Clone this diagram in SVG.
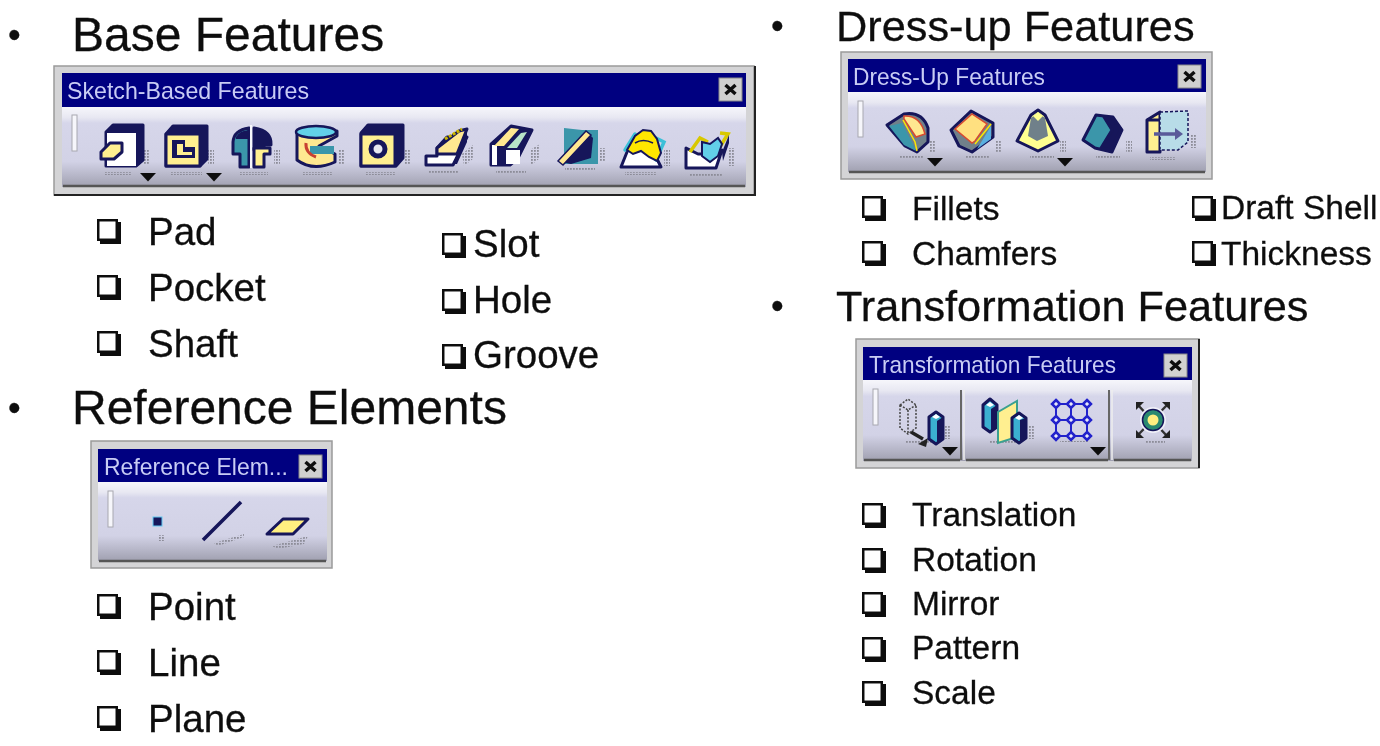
<svg xmlns="http://www.w3.org/2000/svg" width="1380" height="746" viewBox="0 0 1380 746">
<style>
text{font-family:"Liberation Sans",Arial,sans-serif;fill:#111;stroke:#111;stroke-width:.3}
.h{font-size:48px}
.h2{font-size:43.300px}
.d{font-size:36px}
.b1{font-size:38.500px}
.b2{font-size:33.500px}
text.t{font-size:23.200px;fill:#c8ccf4;stroke:none}
.title{fill:#000080}
.frame{fill:#d4d4d6;stroke:#9a9a9a;stroke-width:1.500}
.body{fill:url(#g)}
.x{fill:#d0d0d0;stroke:#888;stroke-width:1}
.xx{stroke:#111;stroke-width:3.500;fill:none}
.grip{fill:#f6f6fb;stroke:#a8a8b0;stroke-width:1}
.sep{stroke:#555;stroke-width:2.500}
.o{stroke:#14145a;stroke-width:3;stroke-linejoin:round}
.s{fill:url(#dots)}
.tri{fill:#111}
</style>
<defs>
<linearGradient id="g" x1="0" y1="0" x2="0" y2="1">
<stop offset="0" stop-color="#f6f6fb"/><stop offset="0.13" stop-color="#e8e8f2"/><stop offset="0.2" stop-color="#d6d6ea"/><stop offset="0.68" stop-color="#d2d2e6"/><stop offset="1" stop-color="#a0a0b0"/>
</linearGradient>
<pattern id="dots" width="3" height="3" patternUnits="userSpaceOnUse"><rect width="1.800" height="1.800" fill="#8c8c98"/></pattern>
<filter id="soft" x="-2%" y="-2%" width="104%" height="104%"><feGaussianBlur stdDeviation="0.7"/></filter>
<filter id="soft2" x="-2%" y="-2%" width="104%" height="104%"><feGaussianBlur stdDeviation="0.35"/></filter>
<g id="xb"><rect class="x" width="23" height="23"/><path class="xx" d="M6.500 7L16.500 16M16.500 7L6.500 16"/></g>
<path id="tr" class="tri" d="M0 0H16L8 8.500Z"/>
<path id="box" fill="#111" d="M0 0H21V3H24V25H3V22H0Z M2.500 2.500V19.500H18.500V2.500Z"/>
</defs>

<g filter="url(#soft2)">
<g id="base-heading"><text class="d" x="8" y="47">•</text><text class="h" x="72" y="51">Base Features</text></g>
<g id="base-items">
<use href="#box" x="97" y="219"/><text class="b1" x="148" y="245">Pad</text>
<use href="#box" x="97" y="275"/><text class="b1" x="148" y="301">Pocket</text>
<use href="#box" x="97" y="331"/><text class="b1" x="148" y="357">Shaft</text>
<use href="#box" x="442" y="233"/><text class="b1" x="473" y="257">Slot</text>
<use href="#box" x="442" y="289"/><text class="b1" x="473" y="313">Hole</text>
<use href="#box" x="442" y="344"/><text class="b1" x="473" y="368">Groove</text>
</g>
<g id="ref-heading"><text class="d" x="8" y="420">•</text><text class="h" x="72" y="424">Reference Elements</text></g>
<g id="ref-items">
<use href="#box" x="97" y="594"/><text class="b1" x="148" y="620">Point</text>
<use href="#box" x="97" y="650"/><text class="b1" x="148" y="676">Line</text>
<use href="#box" x="97" y="706"/><text class="b1" x="148" y="732">Plane</text>
</g>
<g id="dress-heading"><text class="d" x="771" y="38">•</text><text class="h2" x="836" y="41">Dress-up Features</text></g>
<g id="dress-items">
<use href="#box" x="862" y="196"/><text class="b2" x="912" y="220">Fillets</text>
<use href="#box" x="862" y="241"/><text class="b2" x="912" y="265">Chamfers</text>
<use href="#box" x="1192" y="196"/><text class="b2" x="1221" y="219">Draft Shell</text>
<use href="#box" x="1192" y="241"/><text class="b2" x="1221" y="265">Thickness</text>
</g>
<g id="transform-heading"><text class="d" x="771" y="318">•</text><text class="h2" x="836" y="321">Transformation Features</text></g>
<g id="transform-items">
<use href="#box" x="862" y="503"/><text class="b2" x="912" y="526">Translation</text>
<use href="#box" x="862" y="548"/><text class="b2" x="912" y="571">Rotation</text>
<use href="#box" x="862" y="592"/><text class="b2" x="912" y="615">Mirror</text>
<use href="#box" x="862" y="637"/><text class="b2" x="912" y="659">Pattern</text>
<use href="#box" x="862" y="681"/><text class="b2" x="912" y="704">Scale</text>
</g>
</g>

<g id="sketch-toolbar" filter="url(#soft)">
<rect x="54" y="66" width="700" height="129" class="frame"/>
<path d="M54 195H755V66" fill="none" stroke="#222" stroke-width="2"/>
<rect x="62" y="73" width="684" height="34" class="title"/>
<text class="t" x="67" y="99" textLength="242" lengthAdjust="spacingAndGlyphs">Sketch-Based Features</text>
<use href="#xb" x="719" y="78"/>
<rect x="62" y="107" width="684" height="80" class="body"/>
<rect x="72" y="115" width="5" height="36" class="grip"/>
<path class="sep" d="M63 186H745"/>
<path class="s" d="M104 172h28v3h-28zM144 150h6v14h-6zM170 172h32v3h-32zM208 150h6v14h-6zM240 172h28v3h-28zM274 150h6v14h-6zM302 172h30v3h-30zM338 150h6v14h-6zM366 172h30v3h-30zM404 150h6v14h-6zM428 171h30v3h-30zM462 154l12-10v14l-10 8zM496 171h30v3h-30zM530 150l10-6v14l-10 8zM565 168h30v3h-30zM600 148h6v14h-6zM625 172h32v3h-32zM664 150h6v16h-6zM690 174h32v3h-32zM728 148h6v18h-6z"/>
<path class="o" fill="#14145a" d="M106 166v-34l7-7h30v35l-7 6z"/><path fill="#fff" d="M107 166v-33h29v33z"/><path class="o" fill="#ffef90" d="M101 152l9-9h12v9l-8 7h-13z"/>
<path class="o" fill="#14145a" d="M166 134l7-8h34v33l-7 7h-34z"/><path class="o" fill="#ffef90" d="M166 134h34v32h-34z"/><path fill="#14145a" d="M172 140h13v7h10v11h-23z"/><path fill="#ffef90" d="M177 144h6v8h9v3h-15z"/>
<path class="o" fill="#3a96aa" d="M233 142q1-12 16-14v39h-9v-13h-7z"/><path fill="#14145a" d="M236 137q3-6 13-7v9h-13z"/><path class="o" fill="#14145a" d="M254 150h10v-5h7q1-14-17-17z"/><path class="o" fill="#ffef90" d="M254 148h16v6h-6v13h-10z"/><path d="M251 125v43" stroke="#f6f6fb" stroke-width="2"/>
<path class="o" fill="#ffe890" d="M297 132v28q16 12 38 2v-8l-16-8 18-10v-5z"/><ellipse cx="316" cy="132" rx="20" ry="6" fill="#62d0e8" stroke="#14145a" stroke-width="2.500"/><path d="M310 146h24v8h-24z" fill="#3a96aa"/><path d="M306 143q-1 10 10 14" fill="none" stroke="#c84030" stroke-width="3"/>
<path class="o" fill="#14145a" d="M361 133l7-8h35v33l-7 8h-35z"/><path class="o" fill="#ffef90" d="M361 134h34v32h-34z"/><circle cx="378" cy="149" r="7" fill="#e8e8f0" stroke="#14145a" stroke-width="5"/>
<path class="o" fill="#fff" d="M426 165v-9h11v-8l10-11h20l-14 28z"/><path class="o" fill="#ffe890" d="M437 148l22-17 8-2-10 25h-20z"/><path d="M445 139l17-10" stroke="#c8b400" stroke-width="3" stroke-dasharray="3 1.500"/><path fill="#14145a" d="M467 130v12l-10 22h-4z"/>
<path class="o" fill="#14145a" d="M491 165v-21l20-18 21 4-14 28-8 7z"/><path fill="#fff" d="M506 150h14v14h-14z"/><path fill="#fff" d="M492 165v-20h5v20z"/><path fill="#ffe890" d="M494 146l17-18 8 1-15 17z"/><path fill="#b8e4c8" d="M507 148l14-15 6-1-10 16z"/>
<path d="M564 128l18 2h16v34h-34z" fill="#3a96aa"/><path d="M561 162l26-30 6 6 -2 20-20 6z" fill="#14145a"/><path d="M558 161l28-30 5 4-28 30z" fill="#ffe890" stroke="#14145a" stroke-width="1.500"/>
<path class="o" fill="#fff" d="M621 167l8-20h18l8 8 6 12z"/><path d="M625 150l10-16M656 138l8 4-8 18" stroke="#3ac0d8" stroke-width="3.500" fill="none" stroke-linecap="round"/><path d="M627 150l8-14 8-6 8 1 6 8 4 14-4 8-8-4-8-6-8 3z" fill="#ffe600" stroke="#14145a" stroke-width="2"/><path d="M635 143q8-5 18 0" stroke="#14145a" fill="none" stroke-width="1.500"/>
<path class="o" fill="#fff" d="M686 168v-20l12 6h18l6-4-6 18z"/><path d="M690 152l10-14 8 4M718 150l10-16-8-1" stroke="#d8c800" stroke-width="3.500" fill="none"/><path d="M702 142l8 2 8-6 4 6-4 12-8 6-8-6z" fill="#62d0e8" stroke="#14145a" stroke-width="2"/><path fill="#14145a" d="M722 152l7-17 v8l-6 18z"/>
<use href="#tr" x="140" y="173"/><use href="#tr" x="206" y="173"/>
</g>

<g id="reference-toolbar" filter="url(#soft)">
<rect x="91" y="441" width="241" height="127" class="frame"/>
<rect x="98" y="449" width="229" height="33" class="title"/>
<text class="t" x="104" y="475" textLength="184" lengthAdjust="spacingAndGlyphs">Reference Elem...</text>
<use href="#xb" x="299" y="455"/>
<rect x="98" y="482" width="229" height="79" class="body"/>
<rect x="108" y="491" width="5" height="36" class="grip"/>
<path class="sep" d="M99 561H326"/>
<path class="s" d="M158 535h7v6h-7zM214 543l30-9v3l-26 9zM272 546l36-10-4 8-26 5z"/>
<rect x="153" y="517" width="9" height="9" fill="#14145a" stroke="#62c8f0" stroke-width="1"/>
<path d="M203 540L241 502" stroke="#14145a" stroke-width="3.500"/>
<path class="o" fill="#ffef80" d="M267 534l16-15h25l-15 15z"/>
</g>

<g id="dress-toolbar" filter="url(#soft)">
<rect x="841" y="52" width="371" height="127" class="frame"/>
<rect x="848" y="59" width="358" height="33" class="title"/>
<text class="t" x="853" y="85" textLength="192" lengthAdjust="spacingAndGlyphs">Dress-Up Features</text>
<use href="#xb" x="1178" y="65"/>
<rect x="848" y="92" width="358" height="80" class="body"/>
<rect x="858" y="101" width="5" height="36" class="grip"/>
<path class="sep" d="M849 172H1205"/>
<path class="s" d="M900 156h24v3h-24zM930 140h6v12h-6zM966 156h24v3h-24zM996 140h6v12h-6zM1030 156h24v3h-24zM1060 140h6v12h-6zM1096 156h24v3h-24zM1126 140h6v12h-6zM1150 157h26v3h-26zM1190 134h6v14h-6z"/>
<path class="o" fill="#70808a" d="M887 125l17-11q18-3 24 14v14l-11 10-12-6z"/><path d="M889 126l13-3 11 21 3 7-12-6z" fill="#3a96aa"/><path d="M904 116q16-1 21 18l-9 3-12-18z" fill="#ffe890" stroke="#d84a30" stroke-width="1.500"/><path d="M903 120l12 22 2 9" stroke="#ffe600" stroke-width="1.500" fill="none"/>
<path class="o" fill="#70808a" d="M951 130l20-19 22 12v14l-21 15-13-6z"/><path d="M955 129l17-15 15 10-12 17-3 2z" fill="#ffe080" stroke="#d84a30" stroke-width="1.500"/><path d="M977 149l14-23v13z" fill="#5ab0e0"/><path d="M975 144l16-20" stroke="#ffe600" stroke-width="1.500"/>
<path class="o" fill="#ffff90" d="M1017 141l14-26 7-5 7 5 13 26-20 10z"/><path d="M1031 118l7-6 7 6 3 18-11 5-9-5z" fill="#70808a"/><path d="M1033 116l5-4 5 4-5 5z" fill="#ffff90"/>
<path class="o" fill="#3a96aa" d="M1083 140l13-25 8 1 9 1 9 13-10 22-17-4z"/><path class="o" fill="#14145a" stroke="#ffe890" d="M1101 148l11-18-8-13 8 1 9 12-10 20z"/>
<path class="o" fill="#ffef90" d="M1147 120l13-8v40h-13z"/><path d="M1160 112l28-1v31l-10 8h-18z" fill="#b8dce8" stroke="#14145a" stroke-width="1.500" stroke-dasharray="3 2"/><path d="M1147 120h13" stroke="#14145a" stroke-width="3"/><path d="M1154 134h24" stroke="#5a5a9a" stroke-width="3.500"/><path d="M1175 128l8 6-8 6z" fill="#5a5a9a"/>
<use href="#tr" x="927" y="158"/><use href="#tr" x="1057" y="158"/>
</g>

<g id="transform-toolbar" filter="url(#soft)">
<rect x="856" y="339" width="343" height="129" class="frame"/>
<path d="M1199 339V468" stroke="#222" stroke-width="2"/>
<rect x="863" y="347" width="329" height="33" class="title"/>
<text class="t" x="869" y="373" textLength="247" lengthAdjust="spacingAndGlyphs">Transformation Features</text>
<use href="#xb" x="1164" y="354"/>
<rect x="863" y="380" width="329" height="81" class="body"/>
<rect x="873" y="389" width="5" height="36" class="grip"/>
<path d="M961 390v70M1109 390v70" stroke="#666" stroke-width="2"/><path d="M964 390v70M1112 390v70" stroke="#eee" stroke-width="1.500"/>
<path class="sep" d="M864 460H960M966 460H1108M1114 460H1191"/>
<path class="s" d="M905 441h30v3h-30zM945 425h6v14h-6zM990 441h30v3h-30zM1028 425h6v14h-6zM1060 440h28v2h-28zM1145 440h20v3h-20z"/>
<g fill="none" stroke="#444" stroke-dasharray="2 1.500" stroke-width="1.500"><path d="M900 405l8-6 8 6v23l-8 6-8-6zM900 405l8 5 8-5M908 410v24"/></g>
<path d="M911 432l12 7" stroke="#222" stroke-width="3.500"/><path d="M918 444l10-6-2 9z" fill="#222"/>
<path class="o" fill="#3ab0d0" d="M929 417l7-5 7 5v22l-7 5-7-5z"/><path d="M937 443v-22l6-4v22z" fill="#14145a"/><path d="M932 417l4-3 4 3-4 2z" fill="#fff"/>
<path class="o" fill="#3ab0d0" d="M983 405l7-6 7 6v22l-7 5-7-5z"/><path d="M991 431v-22l6-4v22z" fill="#14145a"/><path d="M986 405l4-3 4 3-4 2z" fill="#fff"/>
<path d="M998 412l19-11v36l-19 6z" fill="#ffef90" stroke="#3aa090" stroke-width="2"/>
<path class="o" fill="#3ab0d0" d="M1012 418l7-5 7 5v20l-7 5-7-5z"/><path d="M1020 442v-22l6-2v20z" fill="#14145a"/><path d="M1015 418l4-3 4 3-4 2z" fill="#fff"/>
<g fill="none" stroke="#2222cc" stroke-width="2"><path d="M1056 404h32M1056 420h32M1056 436h32M1056 404v32M1071 404v32M1087 404v32"/></g>
<g fill="#e8e8f8" stroke="#2222cc" stroke-width="2.500"><path d="M1056 400l4 4-4 4-4-4zM1071 400l4 4-4 4-4-4zM1087 400l4 4-4 4-4-4zM1056 416l4 4-4 4-4-4zM1071 416l4 4-4 4-4-4zM1087 416l4 4-4 4-4-4zM1056 432l4 4-4 4-4-4zM1071 432l4 4-4 4-4-4zM1087 432l4 4-4 4-4-4z"/></g>
<g fill="none" stroke="#333" stroke-width="2.500"><path d="M1137 404l30 32M1168 404l-31 32"/></g>
<path fill="#222" d="M1136 402h8l-8 8zM1170 402v8l-8-8zM1136 438v-8l8 8zM1170 438h-8l8-8z"/>
<circle cx="1153" cy="420" r="13" fill="#f0f0f8"/>
<circle cx="1153" cy="420" r="10.500" fill="#2a8a70" stroke="#14145a" stroke-width="1.500"/><circle cx="1153" cy="420" r="5.500" fill="#ffef80"/>
<use href="#tr" x="942" y="447"/><use href="#tr" x="1090" y="447"/>
</g>
</svg>
